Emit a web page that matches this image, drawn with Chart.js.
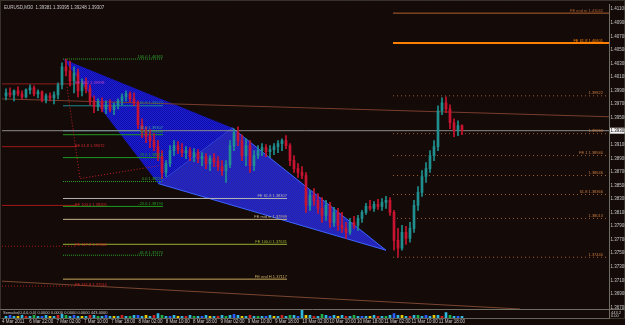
<!DOCTYPE html>
<html>
<head>
<meta charset="utf-8">
<script src="https://cdn.jsdelivr.net/npm/chart.js@4.4.1/dist/chart.umd.min.js"></script>
<style>
  html, body { margin: 0; padding: 0; background: #140b09; }
  #chart { display: block; }
</style>
</head>
<body>
<canvas id="chart" width="625" height="325"></canvas>
<script>
const symbol = 'EURUSD,M30';

const opens = [
  1.39822, 1.39866, 1.39836, 1.39895, 1.39851, 1.39807, 1.39910, 1.39939, 1.39851, 1.39880,
  1.39763, 1.39822, 1.39792, 1.39836, 1.39983, 1.40248, 1.40189, 1.40042, 1.40160, 1.39895,
  1.40013, 1.39924, 1.39748, 1.39660, 1.39733, 1.39630, 1.39689, 1.39616, 1.39675, 1.39748,
  1.39807, 1.39851, 1.39777, 1.39719, 1.39395, 1.39307, 1.39219, 1.39160, 1.39072, 1.38925,
  1.38690, 1.38822, 1.39013, 1.39087, 1.39028, 1.38984, 1.39013, 1.38925, 1.38984, 1.38895,
  1.38925, 1.38822, 1.38895, 1.38851, 1.38778, 1.38719, 1.38807, 1.39087, 1.39278, 1.39160,
  1.38940, 1.39087, 1.38793, 1.38940, 1.39013, 1.39057, 1.38998, 1.39028, 1.39072, 1.39116,
  1.39160, 1.39087, 1.38866, 1.38748, 1.38690, 1.38646, 1.38205, 1.38352, 1.38278, 1.38160,
  1.38058, 1.38205, 1.37955, 1.38102, 1.37911, 1.37866, 1.37808, 1.37955, 1.37911, 1.38013,
  1.38102, 1.38190, 1.38160, 1.38219, 1.38190, 1.38249, 1.38278, 1.38102, 1.37690, 1.37572,
  1.37808, 1.37719, 1.37866, 1.38205, 1.38396, 1.38631, 1.38748, 1.38940, 1.39072, 1.39601,
  1.39719, 1.39630, 1.39425, 1.39307, 1.39381
];
const highs = [
  1.39924, 1.39939, 1.39910, 1.39954, 1.39895, 1.39924, 1.39983, 1.39969, 1.39910, 1.39895,
  1.39851, 1.39866, 1.39880, 1.40013, 1.40307, 1.40365, 1.40336, 1.40248, 1.40218, 1.40071,
  1.40086, 1.39983, 1.39822, 1.39777, 1.39792, 1.39748, 1.39763, 1.39719, 1.39777, 1.39851,
  1.39895, 1.39880, 1.39866, 1.39748, 1.39483, 1.39366, 1.39322, 1.39263, 1.39160, 1.39013,
  1.38866, 1.39087, 1.39160, 1.39145, 1.39116, 1.39072, 1.39057, 1.39042, 1.39028, 1.38984,
  1.38969, 1.38940, 1.38969, 1.38925, 1.38866, 1.38866, 1.39160, 1.39336, 1.39366, 1.39248,
  1.39189, 1.39160, 1.39013, 1.39087, 1.39116, 1.39101, 1.39087, 1.39116, 1.39160, 1.39189,
  1.39234, 1.39116, 1.38940, 1.38822, 1.38778, 1.38690, 1.38425, 1.38454, 1.38381, 1.38322,
  1.38278, 1.38249, 1.38175, 1.38160, 1.38102, 1.37955, 1.38013, 1.38043, 1.38058, 1.38131,
  1.38234, 1.38278, 1.38263, 1.38293, 1.38307, 1.38337, 1.38322, 1.38131, 1.37866, 1.37911,
  1.37896, 1.37955, 1.38278, 1.38484, 1.38719, 1.38837, 1.39013, 1.39160, 1.39675, 1.39792,
  1.39807, 1.39689, 1.39483, 1.39454, 1.39395
];
const lows = [
  1.39763, 1.39807, 1.39748, 1.39822, 1.39777, 1.39792, 1.39851, 1.39822, 1.39792, 1.39733,
  1.39719, 1.39748, 1.39704, 1.39777, 1.39924, 1.40116, 1.39969, 1.39866, 1.39807, 1.39822,
  1.39866, 1.39689, 1.39572, 1.39601, 1.39586, 1.39557, 1.39586, 1.39542, 1.39630, 1.39689,
  1.39748, 1.39733, 1.39675, 1.39336, 1.39204, 1.39131, 1.39057, 1.39013, 1.38866, 1.38601,
  1.38631, 1.38778, 1.38940, 1.38969, 1.38925, 1.38895, 1.38866, 1.38851, 1.38837, 1.38793,
  1.38748, 1.38719, 1.38778, 1.38719, 1.38646, 1.38543, 1.38763, 1.39013, 1.39087, 1.38866,
  1.38793, 1.38690, 1.38719, 1.38895, 1.38940, 1.38925, 1.38910, 1.38954, 1.38984, 1.39013,
  1.39042, 1.38793, 1.38690, 1.38616, 1.38601, 1.38102, 1.38131, 1.38205, 1.38087, 1.37955,
  1.37984, 1.37881, 1.37896, 1.37837, 1.37808, 1.37719, 1.37778, 1.37866, 1.37837, 1.37955,
  1.38072, 1.38131, 1.38116, 1.38146, 1.38131, 1.38160, 1.38058, 1.37543, 1.37440, 1.37543,
  1.37631, 1.37661, 1.37808, 1.38131, 1.38337, 1.38543, 1.38690, 1.38866, 1.39013, 1.39542,
  1.39572, 1.39336, 1.39219, 1.39234, 1.39248
];
const closes = [
  1.39866, 1.39836, 1.39895, 1.39851, 1.39807, 1.39910, 1.39939, 1.39851, 1.39880, 1.39763,
  1.39822, 1.39792, 1.39836, 1.39983, 1.40248, 1.40189, 1.40042, 1.40160, 1.39895, 1.40013,
  1.39924, 1.39748, 1.39660, 1.39733, 1.39630, 1.39689, 1.39616, 1.39675, 1.39748, 1.39807,
  1.39851, 1.39777, 1.39719, 1.39395, 1.39307, 1.39219, 1.39160, 1.39072, 1.38925, 1.38690,
  1.38822, 1.39013, 1.39087, 1.39028, 1.38984, 1.39013, 1.38925, 1.38984, 1.38895, 1.38925,
  1.38822, 1.38895, 1.38851, 1.38778, 1.38719, 1.38807, 1.39087, 1.39278, 1.39160, 1.38940,
  1.39087, 1.38793, 1.38940, 1.39013, 1.39057, 1.38998, 1.39028, 1.39072, 1.39116, 1.39160,
  1.39087, 1.38866, 1.38748, 1.38690, 1.38646, 1.38205, 1.38352, 1.38278, 1.38160, 1.38058,
  1.38205, 1.37955, 1.38102, 1.37911, 1.37866, 1.37808, 1.37955, 1.37911, 1.38013, 1.38102,
  1.38190, 1.38160, 1.38219, 1.38190, 1.38249, 1.38278, 1.38102, 1.37690, 1.37572, 1.37808,
  1.37719, 1.37866, 1.38205, 1.38396, 1.38631, 1.38748, 1.38940, 1.39072, 1.39601, 1.39719,
  1.39630, 1.39425, 1.39307, 1.39381, 1.39307
];
// sub window indicator
const volumes = [
  2, 3, 2, 2, 3, 2, 2, 3, 2, 2,  3, 2, 2, 3, 4, 3, 2, 3, 2, 2,
  2, 3, 3, 2, 2, 3, 2, 2, 2, 3,  2, 2, 3, 3, 2, 3, 2, 3, 5, 3,
  2, 2, 3, 2, 2, 2, 3, 2, 2, 2,  3, 2, 2, 2, 3, 2, 3, 4, 3, 2,
  2, 3, 2, 2, 2, 2, 3, 2, 2, 3,  2, 3, 3, 2, 9, 3, 3, 2, 2, 4,
  3, 2, 3, 2, 3, 2, 2, 3, 2, 2,  2, 2, 3, 2, 2, 2, 3, 5, 3, 3,
  2, 2, 3, 3, 2, 3, 2, 3, 3, 2,  6, 3, 2, 2, 2
];
const indicatorText = 'Semafor(0,4,0,0,0) 0.0000 0.0000 0.0000 0.0000 443.0000';

const timeLabels = [
  '4 Mar 2011', '6 Mar 22:00', '7 Mar 02:00', '7 Mar 10:00', '7 Mar 18:00', '8 Mar 02:00',
  '8 Mar 10:00', '8 Mar 18:00', '9 Mar 02:00', '9 Mar 10:00', '9 Mar 18:00', '10 Mar 02:00',
  '10 Mar 10:00', '10 Mar 18:00', '11 Mar 02:00', '11 Mar 10:00', '11 Mar 18:00'
];
const barsPerLabel = 6.825;

const priceTicks = [
  1.41100, 1.40900, 1.40700, 1.40500, 1.40300, 1.40100, 1.39900, 1.39700,
  1.39500, 1.39300, 1.39100, 1.38900, 1.38700, 1.38500, 1.38300, 1.38100,
  1.37900, 1.37700, 1.37500, 1.37300, 1.37100, 1.36900, 1.36700
];

// harmonic pattern points X, A, B, D  (bar index, price)
const patternIdx = [14.25, 38, 56.5, 95];
const patternPrice = [1.40365, 1.38528, 1.39351, 1.37543];

// dotted swing line
const swingIdx = [15.25, 18.5, 38.5];
const swingPrice = [1.39954, 1.38601, 1.38793];

// trend lines
const trendIdx = [-1, 150.75];
const trendPrice = [1.39777, 1.39513];
const lowerIdx = [-1, 128.5];
const lowerPrice = [1.37087, 1.36676];

// fibo levels X -> A
const fibPrices = [1.40365, 1.39675, 1.39307, 1.39248, 1.38910, 1.38557, 1.38190, 1.37470];
const fibLabels = ['100.0 1.40365', '61.8 1.39675', '50.0 1.39307', '38.2 1.39248',
  '23.6 1.38910', '0.0 1.38557', '-23.6 1.38190', '-61.8 1.37470'];
const fibSpan = [14.25, 39.25];

// expansion levels, middle
const feMidPrices = [1.38307, 1.37999, 1.37631, 1.37117];
const feMidLabels = ['FE 61.8 1.38307', 'FE mid m 1.37999', 'FE 100.0 1.37631', 'FE end H 1.37117'];
const feMidSpan = [14.25, 70.25];

// expansion levels, right
const feRightPrices = [1.41042, 1.40601, 1.39822, 1.39263, 1.38940, 1.38646, 1.38366, 1.38013, 1.37440];
const feRightLabels = ['FE end m 1.41042', 'FE 61.8 1.40601', '1.39822', '1.39263', 'FE 1 1.38940',
  '1.38646', '61.8 1.38366', '1.38013', '1.37440'];
const feRightSpan = [96.75, 150.75];
const feRightLabelAt = 149.25;

// older levels, left
const redPrices = [1.39998, 1.39072, 1.38205, 1.37602, 1.37014];
const redLabels = ['FE 38.2 1.39998', 'FE 61.8 1.39072', 'FE 100.0 1.38205', 'FE 127.2 1.37602', 'FE 161.8 1.37014'];
const redSpan = [-1, 17.75];
const redLabelAt = 17.25;

// ---- styles ----
const BG = '#140b09';
const UP = '#1f8f8f';
const DOWN = '#c81430';
const fibColors = ['#2ea02e', '#1a8a8a', '#3aa0a0', '#1e9a1e', '#1e9a1e', '#2ea02e', '#1e9a1e', '#2ea02e'];
const fibDash = [[1, 1], [], [], [], [], [1, 1], [], [1, 1]];
const feMidColors = ['#b4b4b4', '#c8b48c', '#9ab032', '#c8aa5a'];
const feRightColors = ['#b0622e', '#ff8000', '#a05a2a', '#a05a2a', '#a05a2a', '#a05a2a', '#a05a2a', '#a05a2a', '#a05a2a'];
const feRightWidth = [1, 2, 1, 1, 1, 1, 1, 1, 1];
const feRightDash = [[], [], [1, 3], [1, 3], [1, 3], [1, 3], [1, 3], [1, 3], [1, 3]];
const redLineColors = ['#8c1c1c', '#a01818', '#a01818', '#a01818', '#a01818'];
const redTextColors = ['#c040c8', '#d02828', '#d02828', '#d02828', '#d02828'];
const redDash = [[], [], [], [1, 2], [1, 2]];
const volPalette = ['#2fb8e0', '#2a5cff', '#2fb8e0', '#e8c800', '#2fb8e0', '#d02020', '#2fb8e0', '#20b040'];
const FONT = "'Liberation Sans', Arial, sans-serif";

function hatch(c1, c2) {
  const p = document.createElement('canvas');
  p.width = 2; p.height = 2;
  const g = p.getContext('2d');
  g.fillStyle = c1; g.fillRect(0, 0, 2, 2);
  g.fillStyle = c2; g.fillRect(0, 0, 1, 1); g.fillRect(1, 1, 1, 1);
  return g.createPattern(p, 'repeat');
}

function hLine(price, span, color, width, dash) {
  return {
    type: 'line',
    data: [{ x: span[0], y: price }, { x: span[1], y: price }],
    borderColor: color, borderWidth: width, borderDash: dash,
    pointRadius: 0, fill: false, yAxisID: 'y', order: 5
  };
}

function pathLine(xs, ys, color, width, dash) {
  return {
    type: 'line',
    data: xs.map((x, i) => ({ x: x, y: ys[i] })),
    borderColor: color, borderWidth: width, borderDash: dash,
    pointRadius: 0, fill: false, yAxisID: 'y', order: 4
  };
}

function triangle(ids, bg, edge) {
  const pts = ids.map(k => ({ x: patternIdx[k], y: patternPrice[k] }));
  pts.push(pts[0]);
  return {
    type: 'line', data: pts, fill: 'shape', backgroundColor: bg,
    borderColor: edge, borderWidth: edge ? 1 : 0, pointRadius: 0,
    yAxisID: 'y', order: 10
  };
}

const idx = closes.map((_, i) => i);
const candleColor = ctx => closes[ctx.dataIndex] >= opens[ctx.dataIndex] ? UP : DOWN;

const datasets = [
  triangle([0, 2, 1], hatch('#1c1cd0', '#1010a8'), null),
  triangle([1, 2, 3], hatch('#2020c8', '#2a2aa8'), '#3c64ff'),
  pathLine(trendIdx, trendPrice, '#7a3c2c', 1, []),
  pathLine(lowerIdx, lowerPrice, '#7a4630', 1, []),
  pathLine(swingIdx, swingPrice, '#c02020', 1, [1, 2]),
  hLine(closes[closes.length - 1], [-1, 150.75], '#8c8c8c', 1, []),
  {
    type: 'bar', label: 'wick',
    data: idx.map(i => ({ x: i, y: [lows[i], highs[i]] })),
    backgroundColor: candleColor, barThickness: 1, grouped: false, yAxisID: 'y', order: 1
  },
  {
    type: 'bar', label: 'body',
    data: idx.map(i => ({ x: i, y: [opens[i], closes[i]] })),
    backgroundColor: candleColor, barThickness: 2, minBarLength: 1, grouped: false, yAxisID: 'y', order: 0
  },
  {
    type: 'bar', label: 'ind',
    data: idx.map(i => ({ x: i, y: volumes[i] })),
    backgroundColor: ctx => volPalette[ctx.dataIndex % volPalette.length],
    barThickness: 2, grouped: false, yAxisID: 'yv', order: 2
  }
];
fibPrices.forEach((p, i) => datasets.push(hLine(p, fibSpan, fibColors[i], 1, fibDash[i])));
feMidPrices.forEach((p, i) => datasets.push(hLine(p, feMidSpan, feMidColors[i], 1, [])));
feRightPrices.forEach((p, i) => datasets.push(hLine(p, feRightSpan, feRightColors[i], feRightWidth[i], feRightDash[i])));
redPrices.forEach((p, i) => datasets.push(hLine(p, redSpan, redLineColors[i], 1, redDash[i])));

function text(ctx, str, x, y, color, align, size) {
  ctx.font = (size || 4.5) + 'px ' + FONT;
  ctx.fillStyle = color;
  ctx.textAlign = align || 'left';
  ctx.textBaseline = 'bottom';
  ctx.fillText(str, x, y);
}

const mtDecor = {
  id: 'mtDecor',
  beforeDraw(chart) {
    const c = chart.ctx;
    c.save();
    c.fillStyle = BG;
    c.fillRect(0, 0, chart.width, chart.height);
    c.restore();
  },
  afterDatasetsDraw(chart) {
    const c = chart.ctx, xs = chart.scales.x, ys = chart.scales.y;
    c.save();
    fibPrices.forEach((p, i) =>
      text(c, fibLabels[i], xs.getPixelForValue(fibSpan[1]), ys.getPixelForValue(p) - 0.5, fibColors[i], 'right', 4));
    feMidPrices.forEach((p, i) =>
      text(c, feMidLabels[i], xs.getPixelForValue(feMidSpan[1]), ys.getPixelForValue(p) - 0.5, feMidColors[i], 'right', 4));
    feRightPrices.forEach((p, i) =>
      text(c, feRightLabels[i], xs.getPixelForValue(feRightLabelAt), ys.getPixelForValue(p) - 0.5,
        i < 2 ? feRightColors[i] : '#c87a3c', 'right', 4));
    redPrices.forEach((p, i) =>
      text(c, redLabels[i], xs.getPixelForValue(redLabelAt), ys.getPixelForValue(p) + 1, redTextColors[i], 'left', 4));
    c.restore();
  },
  afterDraw(chart) {
    const c = chart.ctx, a = chart.chartArea, ys = chart.scales.y, yv = chart.scales.yv;
    const n = closes.length - 1;
    c.save();
    // title
    text(c, symbol + '  ' + [opens[n], highs[n], lows[n], closes[n]].map(v => v.toFixed(5)).join(' '),
      a.left + 2, a.top + 6, '#c8c8c8', 'left', 4.5);
    // sub window separator and caption
    const sep = Math.round(yv.getPixelForValue(10)) + 0.5;
    c.strokeStyle = '#6e6e64';
    c.lineWidth = 1;
    c.beginPath(); c.moveTo(0, sep); c.lineTo(chart.width, sep); c.stroke();
    text(c, indicatorText, a.left + 1, sep + 5, '#c8c8c8', 'left', 4);
    text(c, '443.2', a.right + 2, sep + 5, '#c8c8c8', 'left', 4);
    text(c, '0.00', a.right + 2, a.bottom, '#c8c8c8', 'left', 4);
    // bid price box on the axis
    const py = ys.getPixelForValue(closes[n]);
    c.fillStyle = '#f0f0f0';
    c.fillRect(a.right + 1, py - 3, chart.width - a.right - 1, 6);
    c.font = '4.5px ' + FONT;
    c.fillStyle = '#140b09';
    c.textAlign = 'left';
    c.textBaseline = 'middle';
    c.fillText(closes[n].toFixed(5), a.right + 1.5, py);
    // window frame
    c.strokeStyle = '#5a5a50';
    c.setLineDash([1, 1]);
    c.strokeRect(0.5, 0.5, chart.width - 1, a.bottom);
    c.restore();
  }
};

new Chart(document.getElementById('chart'), {
  type: 'bar',
  data: { datasets: datasets },
  options: {
    responsive: false,
    animation: false,
    layout: { padding: { left: 2, top: 3, right: 0, bottom: 0 } },
    plugins: { legend: { display: false }, tooltip: { enabled: false } },
    scales: {
      x: {
        type: 'linear', min: -1, max: 150.75, offset: false,
        grid: { display: false, drawTicks: false, tickLength: 0 },
        border: { display: true, color: '#6e6e64' },
        afterFit: s => { s.height = 7; },
        afterBuildTicks: s => { s.ticks = timeLabels.map((_, k) => ({ value: -1 + k * barsPerLabel })); },
        ticks: {
          autoSkip: false, maxRotation: 0, minRotation: 0, align: 'start', padding: 1.5,
          color: '#c8c8c8', font: { size: 4.5, family: FONT },
          callback: (v, i) => timeLabels[i]
        }
      },
      y: {
        type: 'linear', position: 'right', min: 1.365434, max: 1.411739,
        grid: { display: false, drawTicks: false, tickLength: 0 },
        border: { display: true, color: '#6e6e64', dash: [1, 1] },
        afterFit: s => { s.width = 16; },
        afterBuildTicks: s => { s.ticks = priceTicks.map(v => ({ value: v })); },
        ticks: {
          padding: 1.5, color: '#c8c8c8', font: { size: 4.5, family: FONT },
          callback: v => v.toFixed(5)
        }
      },
      yv: {
        type: 'linear', display: false, min: 0, max: 350
      }
    }
  },
  plugins: [mtDecor]
});
</script>
</body>
</html>
